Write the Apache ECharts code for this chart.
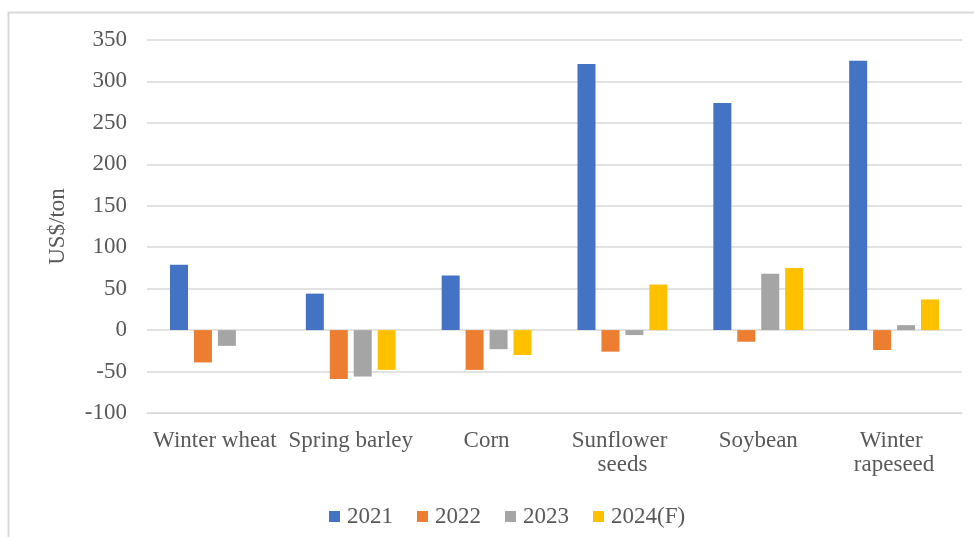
<!DOCTYPE html>
<html>
<head>
<meta charset="utf-8">
<script src="https://cdn.jsdelivr.net/npm/echarts@6/dist/echarts.min.js"></script>
<style>
  html, body { margin: 0; padding: 0; background: #fff; }
  #chart { width: 974px; height: 537px; }
</style>
</head>
<body>
<div id="chart"></div>
<script>
// Crop categories along the x axis
const categories = ['Winter wheat', 'Spring barley', 'Corn', 'Sunflower seeds', 'Soybean', 'Winter rapeseed'];

// Values per year, US$/ton
const v2021 = [79, 44, 66, 321, 274, 325];
const v2022 = [-39, -59, -48, -26, -14, -24];
const v2023 = [-19, -56, -23, -6, 68, 6];
const v2024F = [null, -48, -30, 55, 75, 37];

const seriesNames = ['2021', '2022', '2023', '2024(F)'];
const seriesColors = ['#4472C4', '#ED7D31', '#A5A5A5', '#FFC000'];
const seriesValues = [v2021, v2022, v2023, v2024F];

const yMin = -100, yMax = 350, yStep = 50;
const FONT = '"Liberation Serif", "Times New Roman", serif';
const TEXT = '#595959';

const chart = echarts.init(document.getElementById('chart'), null, { renderer: 'canvas' });

chart.setOption({
  backgroundColor: '#ffffff',
  animation: false,
  textStyle: { fontFamily: FONT, color: TEXT },
  graphic: [{
    type: 'rect',
    shape: { x: 8.5, y: 12.5, width: 1000, height: 600 },
    style: { fill: 'none', stroke: '#D9D9D9', lineWidth: 2 },
    silent: true
  }],
  grid: { left: 147, right: 12, top: 40, bottom: 124 },
  legend: {
    data: seriesNames,
    left: 324,
    top: 500,
    itemWidth: 11,
    itemHeight: 11,
    itemGap: 24,
    icon: 'rect',
    textStyle: { fontFamily: FONT, fontSize: 23, color: TEXT, padding: [0, 0, 0, 2] }
  },
  xAxis: {
    type: 'category',
    data: categories,
    axisLine: { show: true, onZero: false, lineStyle: { color: '#D9D9D9', width: 1 } },
    axisTick: { show: false },
    axisLabel: {
      interval: 0,
      margin: 16,
      fontFamily: FONT,
      fontSize: 23,
      color: TEXT,
      width: 134,
      overflow: 'break',
      lineHeight: 24
    }
  },
  yAxis: {
    type: 'value',
    min: yMin,
    max: yMax,
    interval: yStep,
    name: 'US$/ton',
    nameLocation: 'middle',
    nameGap: 78,
    nameTextStyle: { fontFamily: FONT, fontSize: 23, color: TEXT },
    axisLine: { show: false },
    axisTick: { show: false },
    axisLabel: { margin: 20, fontFamily: FONT, fontSize: 23, color: TEXT },
    splitLine: { lineStyle: { color: '#D9D9D9', width: 1.5 } }
  },
  series: seriesNames.map((name, i) => ({
    name: name,
    type: 'bar',
    data: seriesValues[i],
    barWidth: 18,
    barGap: '33%',
    itemStyle: { color: seriesColors[i] }
  }))
});
</script>
</body>
</html>
